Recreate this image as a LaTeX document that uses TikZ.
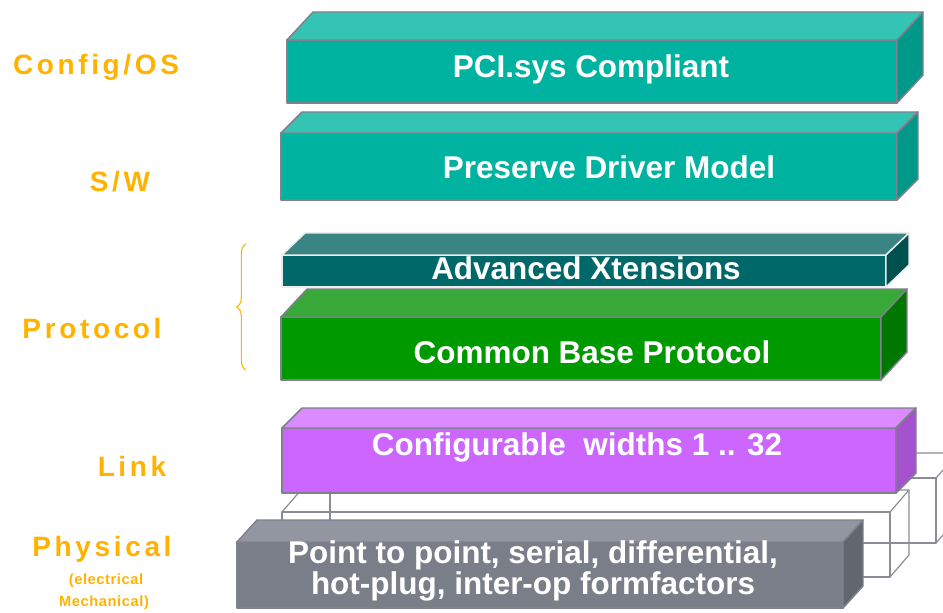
\documentclass[tikz,border=0pt]{standalone}
\usepackage{fontspec}
\setmainfont{Liberation Sans}
\newfontfamily\spacedfont{Liberation Sans}[LetterSpace=13]
\newfontfamily\smallspacedfont{Liberation Sans}[LetterSpace=4]
\usetikzlibrary{decorations.pathreplacing}

\definecolor{labelorange}{RGB}{255,178,0}
\definecolor{edgegray}{RGB}{128,128,142}
\definecolor{wiregray}{RGB}{140,140,150}
% PCI.sys / driver model (teal)
\definecolor{tealfront}{RGB}{0,178,160}
\definecolor{tealtop}{RGB}{52,196,180}
\definecolor{tealside}{RGB}{0,152,136}
% advanced xtensions (dark teal)
\definecolor{axfront}{RGB}{0,104,104}
\definecolor{axtop}{RGB}{58,132,132}
\definecolor{axside}{RGB}{0,80,80}
% common base protocol (green)
\definecolor{cbpfront}{RGB}{0,153,0}
\definecolor{cbptop}{RGB}{56,168,56}
\definecolor{cbpside}{RGB}{0,120,0}
% link (purple)
\definecolor{linkfront}{RGB}{204,102,255}
\definecolor{linktop}{RGB}{220,138,255}
\definecolor{linkside}{RGB}{165,82,206}
% physical (gray)
\definecolor{physfront}{RGB}{122,126,136}
\definecolor{phystop}{RGB}{146,150,160}
\definecolor{physside}{RGB}{98,102,111}

\tikzset{
  layertext/.style={text=white, align=center,
    font=\fontsize{23.6}{23.5}\selectfont\bfseries},
  sidelabel/.style={text=labelorange,
    font=\spacedfont\fontsize{21}{22}\selectfont\bfseries},
  smalllabel/.style={text=labelorange,
    font=\smallspacedfont\fontsize{11}{12}\selectfont\bfseries},
  slabedge/.style={draw=edgegray, line width=1.1pt, line join=round},
  wire/.style={draw=wiregray, line width=0.9pt, line join=round}
}

% 3d slab: [edge]{colour prefix}{x1}{y1}{x2}{y2}{dx}{dy}
\newcommand{\slab}[8][slabedge]{%
  \filldraw[#1, fill=#2front] (#3,#4) rectangle (#5,#6);
  \filldraw[#1, fill=#2top] (#3,#4) -- (#3+#7,#4-#8) -- (#5+#7,#4-#8) -- (#5,#4) -- cycle;
  \filldraw[#1, fill=#2side] (#5,#4) -- (#5+#7,#4-#8) -- (#5+#7,#6-#8) -- (#5,#6) -- cycle;
}
% open wire frame box: {x1}{y1}{x2}{y2}{dx}{dy}
\newcommand{\wirebox}[6]{%
  \draw[wire] (#1,#2) rectangle (#3,#4);
  \draw[wire] (#1,#2) -- (#1+#5,#2-#6) -- (#3+#5,#2-#6) -- (#3,#2);
  \draw[wire] (#3+#5,#2-#6) -- (#3+#5,#4-#6) -- (#3,#4);
}

\begin{document}
\begin{tikzpicture}[x=0.75pt,y=-0.75pt]
\useasboundingbox (0,0) rectangle (943,613);
\clip (0,0) rectangle (943,613);

% lanes behind the physical layer
\wirebox{330}{478}{936}{543}{22}{25}
\wirebox{282}{512}{890}{577}{19}{22}

% the layers
\slab{teal}{287}{40}{897}{103}{26}{28}
\slab{teal}{281}{133}{897}{200}{21}{21}
\slab[slabedge, draw=white!85!gray]{ax}{282}{255}{886}{287}{23}{22}
\slab{cbp}{281}{317}{881}{380}{26}{28}
\slab{link}{282}{428}{896}{493}{20}{20}
\slab{phys}{237}{542}{843}{608}{20}{22}

\node[layertext] (pci) at (591,69) {PCI.sys Compliant};
\node[layertext] (driver) at (609,167) {Preserve Driver Model};
\node[layertext] (xtens) at (586,268) {Advanced Xtensions};
\node[layertext] (base) at (592,352) {Common Base Protocol};
\node[layertext] (widths) at (577,447) {Configurable\ \ widths 1 .. 32};
\node[layertext] (point) at (533,571) {Point to point, serial, differential,\\hot-plug, inter-op formfactors};

% layer names
\node[sidelabel] (config) at (96,67) {Config/OS};
\node[sidelabel] (sw) at (120,182) {S/W};
\node[sidelabel] (protocol) at (92,328) {Protocol};
\node[sidelabel] (link) at (132,466) {Link};
\node[sidelabel] (physical) at (102,549) {Physical};
\node[smalllabel] (elec) at (106,581) {(electrical};
\node[smalllabel] (mech) at (104,603) {Mechanical)};

\draw[labelorange, line width=0.8pt, decorate, decoration={brace, amplitude=7pt}]
  (246,370) -- (246,244);
\end{tikzpicture}
\end{document}
